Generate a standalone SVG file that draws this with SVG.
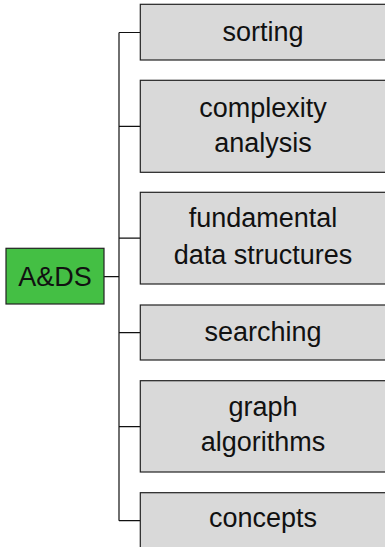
<svg xmlns="http://www.w3.org/2000/svg" width="385" height="547" viewBox="0 0 385 547">
<style>
.box{fill:#d9d9d9;stroke:#222;stroke-width:1.2}
.root{fill:#44bf44;stroke:#222;stroke-width:1.2}
.t{font-family:"Liberation Sans",Arial,sans-serif;font-size:27px;fill:#111;text-anchor:middle}
.c{fill:none;stroke:#111;stroke-width:1.2}
</style>
<rect width="385" height="547" fill="#fff"/>
<g id="connectors">
<path class="c" d="M119 32.5V520.7M119 32.5H140M119 126.3H140M119 238.2H140M104 276.7H119M119 332.7H140M119 426.7H140M119 520.7H140"/>
</g>
<g id="root"><rect class="root" x="6" y="248.3" width="98" height="55.7"/><text class="t" x="55" y="285.5">A&amp;DS</text></g>
<g id="sorting"><rect class="box" x="140.3" y="4.3" width="250" height="55.7"/><text class="t" x="263" y="41">sorting</text></g>
<g id="complexity"><rect class="box" x="140.3" y="80.3" width="250" height="92"/><text class="t" x="263" y="117">complexity</text><text class="t" x="263" y="152">analysis</text></g>
<g id="fundamental"><rect class="box" x="140.3" y="192.3" width="250" height="91.7"/><text class="t" x="263" y="227">fundamental</text><text class="t" x="263" y="264">data structures</text></g>
<g id="searching"><rect class="box" x="140.3" y="305" width="250" height="55"/><text class="t" x="263" y="340.5">searching</text></g>
<g id="graph"><rect class="box" x="140.3" y="380.7" width="250" height="91.3"/><text class="t" x="263" y="416">graph</text><text class="t" x="263" y="451">algorithms</text></g>
<g id="concepts"><rect class="box" x="140.3" y="492.7" width="250" height="60"/><text class="t" x="263" y="527">concepts</text></g>
</svg>
